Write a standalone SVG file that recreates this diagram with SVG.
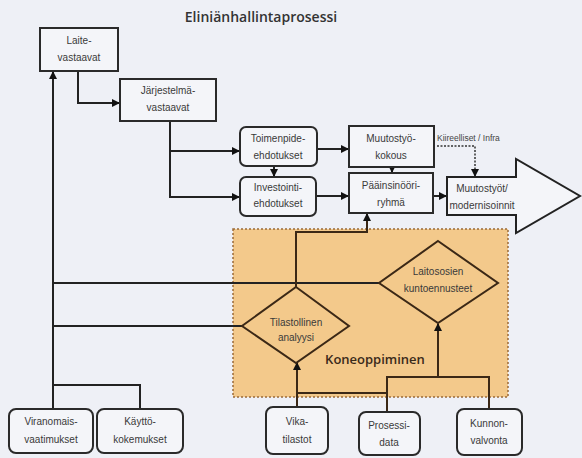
<svg xmlns="http://www.w3.org/2000/svg" width="582" height="458" viewBox="0 0 582 458">
<defs>
<style>
.bx{fill:#f4f5f9;stroke:#2a2a2a;stroke-width:2}
.dm{fill:none;stroke:#3b2816;stroke-width:2}
.t{font-family:"Liberation Sans",Arial,sans-serif;font-size:10px;fill:#3a3a3a;text-anchor:middle}
.c{fill:none;stroke:#222;stroke-width:2}
.ci{fill:none;stroke:#3b2816;stroke-width:2}
</style>
<marker id="ah" markerUnits="userSpaceOnUse" markerWidth="8" markerHeight="8" refX="7" refY="4" orient="auto"><path d="M0,0 L8,4 L0,8 z" fill="#111"/></marker>
</defs>
<rect width="582" height="458" fill="#eef0f6"/>
<text x="261" y="22" font-family="'Open Sans','Liberation Sans',sans-serif" font-size="14" font-weight="600" fill="#333" text-anchor="middle">Eliniänhallintaprosessi</text>

<g id="koneoppiminen">
<rect x="233" y="229" width="275" height="168" fill="#f3c98b" stroke="#9a6a38" stroke-width="1.5" stroke-dasharray="2,2"/>
<text x="375" y="364" font-family="'Open Sans','Liberation Sans',sans-serif" font-size="13" font-weight="600" fill="#3a2a1a" text-anchor="middle">Koneoppiminen</text>
</g>

<g id="connectors">
<path class="c" d="M78,71 V103 H119" marker-end="url(#ah)"/>
<path class="c" d="M170,121 V151 H239" marker-end="url(#ah)"/>
<path class="c" d="M170,151 V197 H239" marker-end="url(#ah)"/>
<path class="c" d="M274,166 V176" marker-end="url(#ah)"/>
<path class="c" d="M317,149 H348" marker-end="url(#ah)"/>
<path class="c" d="M316,196 H348" marker-end="url(#ah)"/>
<path class="c" d="M392,167 V172" marker-end="url(#ah)"/>
<path class="c" d="M433,196 H446" marker-end="url(#ah)"/>
<path d="M437,146 H475 V176" fill="none" stroke="#333" stroke-width="1.5" stroke-dasharray="2,1.5" marker-end="url(#ah)"/>
<path class="c" d="M53,409 V72" marker-end="url(#ah)"/>
<path class="c" d="M140,409 V385 H53"/>
<path class="c" d="M53,283 H379"/>
<path class="c" d="M53,326 H242"/>
<path class="ci" d="M296,288 V232 H367 V214" marker-end="url(#ah)"/>
<path class="ci" d="M297,407 V363" marker-end="url(#ah)"/>
<path class="ci" d="M297,393 H387"/>
<path class="ci" d="M387,412 V377 H489 V409"/>
<path class="ci" d="M438,377 V324" marker-end="url(#ah)"/>
</g>

<g id="laite"><rect class="bx" x="40" y="28" width="78" height="43"/><text class="t" x="79" y="44">Laite-</text><text class="t" x="79" y="61">vastaavat</text></g>
<g id="jarjestelma"><rect class="bx" x="120" y="79" width="96" height="42"/><text class="t" x="168" y="94">Järjestelmä-</text><text class="t" x="168" y="111">vastaavat</text></g>
<g id="toimenpide"><rect class="bx" x="240" y="127" width="77" height="39" rx="6"/><text class="t" x="278" y="142">Toimenpide-</text><text class="t" x="278" y="159">ehdotukset</text></g>
<g id="investointi"><rect class="bx" x="240" y="177" width="76" height="39" rx="6"/><text class="t" x="278" y="191">Investointi-</text><text class="t" x="278" y="207">ehdotukset</text></g>
<g id="muutostyokokous"><rect class="bx" x="349" y="126" width="85" height="41"/><text class="t" x="391" y="142">Muutostyö-</text><text class="t" x="391" y="159">kokous</text></g>
<g id="paainsinoori"><rect class="bx" x="349" y="173" width="84" height="40"/><text class="t" x="391" y="189">Pääinsinööri-</text><text class="t" x="391" y="206">ryhmä</text></g>
<g id="kiireelliset"><text x="437" y="141" font-family="'Liberation Sans',Arial,sans-serif" font-size="8.5" fill="#444">Kiireelliset / Infra</text></g>
<g id="muutostyot"><polygon points="447,177 516,177 516,159 580,196 516,233 516,215 447,215" fill="#f4f5f9" stroke="#222" stroke-width="2"/><text class="t" x="482" y="192">Muutostyöt/</text><text class="t" x="482" y="209">modernisoinnit</text></g>
<g id="laitososien"><polygon class="dm" points="438,241 498,283 438,323 379,283"/><text class="t" x="438" y="275">Laitososien</text><text class="t" x="438" y="292">kuntoennusteet</text></g>
<g id="tilastollinen"><polygon class="dm" points="296,287 349,326 296,363 242,326"/><text class="t" x="296" y="326">Tilastollinen</text><text class="t" x="296" y="341">analyysi</text></g>
<g id="viranomais"><rect class="bx" x="9" y="409" width="84" height="44" rx="7"/><text class="t" x="51" y="425">Viranomais-</text><text class="t" x="51" y="443">vaatimukset</text></g>
<g id="kaytto"><rect class="bx" x="97" y="409" width="86" height="44" rx="7"/><text class="t" x="140" y="425">Käyttö-</text><text class="t" x="140" y="443">kokemukset</text></g>
<g id="vika"><rect class="bx" x="266" y="407" width="62" height="47" rx="7"/><text class="t" x="297" y="425">Vika-</text><text class="t" x="297" y="443">tilastot</text></g>
<g id="prosessi"><rect class="bx" x="359" y="412" width="61" height="43" rx="7"/><text class="t" x="389" y="429">Prosessi-</text><text class="t" x="389" y="446">data</text></g>
<g id="kunnon"><rect class="bx" x="457" y="409" width="65" height="46" rx="7"/><text class="t" x="489" y="427">Kunnon-</text><text class="t" x="489" y="444">valvonta</text></g>
</svg>
